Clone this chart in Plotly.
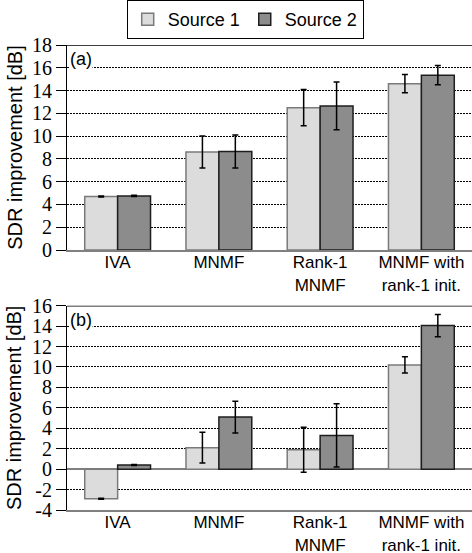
import plotly.graph_objects as go
from plotly.subplots import make_subplots

# Methods on the x axis
categories = ["IVA", "MNMF", "Rank-1<br>MNMF", "MNMF with<br>rank-1 init."]
series_names = ["Source 1", "Source 2"]

# (a) SDR improvement [dB] with standard deviations
a_src1 = [4.7, 8.6, 12.5, 14.6]
a_err1 = [0.05, 1.4, 1.6, 0.8]
a_src2 = [4.75, 8.65, 12.65, 15.35]
a_err2 = [0.05, 1.45, 2.1, 0.85]

# (b) SDR improvement [dB] with standard deviations
b_src1 = [-2.9, 2.1, 1.9, 10.2]
b_err1 = [0.05, 1.5, 2.2, 0.8]
b_src2 = [0.4, 5.1, 3.3, 14.05]
b_err2 = [0.05, 1.55, 3.1, 1.1]

a_ticks = list(range(0, 19, 2))
b_ticks = list(range(-4, 17, 2))

fills = ["#dcdcdc", "#8c8c8c"]
edges = ["#7a7a7a", "#1e1e1e"]

SANS = "Liberation Sans"
SERIF = "Liberation Serif"

W, H = 472, 553
M_T, M_B, M_L, M_R = 45, 43, 67, 0
plot_h = H - M_T - M_B

fig = make_subplots(rows=2, cols=1, vertical_spacing=0.05)

panels = [
    (1, [a_src1, a_src2], [a_err1, a_err2]),
    (2, [b_src1, b_src2], [b_err1, b_err2]),
]
for row, vals, errs in panels:
    for i in range(2):
        fig.add_trace(
            go.Bar(
                x=categories,
                y=vals[i],
                name=series_names[i],
                showlegend=(row == 1),
                marker=dict(color=fills[i], line=dict(color=edges[i], width=1.5)),
                error_y=dict(type="data", array=errs[i], visible=True,
                             color="black", thickness=1.5, width=3),
            ),
            row=row, col=1,
        )

fig.update_layout(
    width=W, height=H,
    margin=dict(t=M_T, b=M_B, l=M_L, r=M_R, autoexpand=False),
    paper_bgcolor="white", plot_bgcolor="white",
    barmode="group", bargap=0.35, bargroupgap=0.0,
    font=dict(family=SANS, size=18, color="black"),
    legend=dict(
        orientation="h", x=0.44, xanchor="center", y=1 + 45 / plot_h,
        yanchor="top", yref="paper",
        bordercolor="black", borderwidth=1, bgcolor="white",
        font=dict(family=SANS, size=18, color="black"),
        itemwidth=30, tracegroupgap=0,
    ),
)

# Panel (a) spans 45-250 px, panel (b) 306-510 px
y_axis_style = dict(
    tickfont=dict(family=SERIF, size=20, color="black"),
    ticks="outside", ticklen=10, tickcolor="black", tickwidth=1,
    automargin=False,
    showline=True, linecolor="black", linewidth=1,
    showgrid=True, gridcolor="black", griddash="2px,1px", gridwidth=1,
    zerolinecolor="#808080", zerolinewidth=2,
    title=dict(text="SDR improvement [dB]",
               font=dict(family=SANS, size=20, color="black"), standoff=4),
)
x_axis_style = dict(
    range=[-0.5, 3.5], automargin=False,
    tickfont=dict(family=SANS, size=17, color="black"),
    ticks="", ticklabelstandoff=-4,
    showline=True, linecolor="#808080", linewidth=2,
    showgrid=False, zeroline=False,
)
fig.update_layout(
    yaxis=dict(domain=[1 - 205 / plot_h, 1], range=[0, 18],
               tickvals=a_ticks, ticktext=[str(t) for t in a_ticks],
               zeroline=False, **y_axis_style),
    yaxis2=dict(domain=[0, 204.3 / plot_h], range=[-4, 16],
                tickvals=b_ticks, ticktext=[str(t) for t in b_ticks],
                zeroline=True, **y_axis_style),
    xaxis=x_axis_style,
    xaxis2=x_axis_style,
)

# Top border of each panel
for yref, ytop in [("y", 18), ("y2", 16)]:
    fig.add_shape(type="line", xref="paper", x0=0, x1=1, yref=yref,
                  y0=ytop, y1=ytop, line=dict(color="black", width=1.5))

# Panel labels
for xref, yref, text in [("x domain", "y domain", "(a)"),
                         ("x2 domain", "y2 domain", "(b)")]:
    fig.add_annotation(
        text=text, xref=xref, x=0, xanchor="left", xshift=2,
        yref=yref, y=1, yanchor="top", yshift=-3,
        showarrow=False, bgcolor="white", borderpad=0,
        font=dict(family=SANS, size=18, color="black"),
    )

fig.write_html("out.html")
